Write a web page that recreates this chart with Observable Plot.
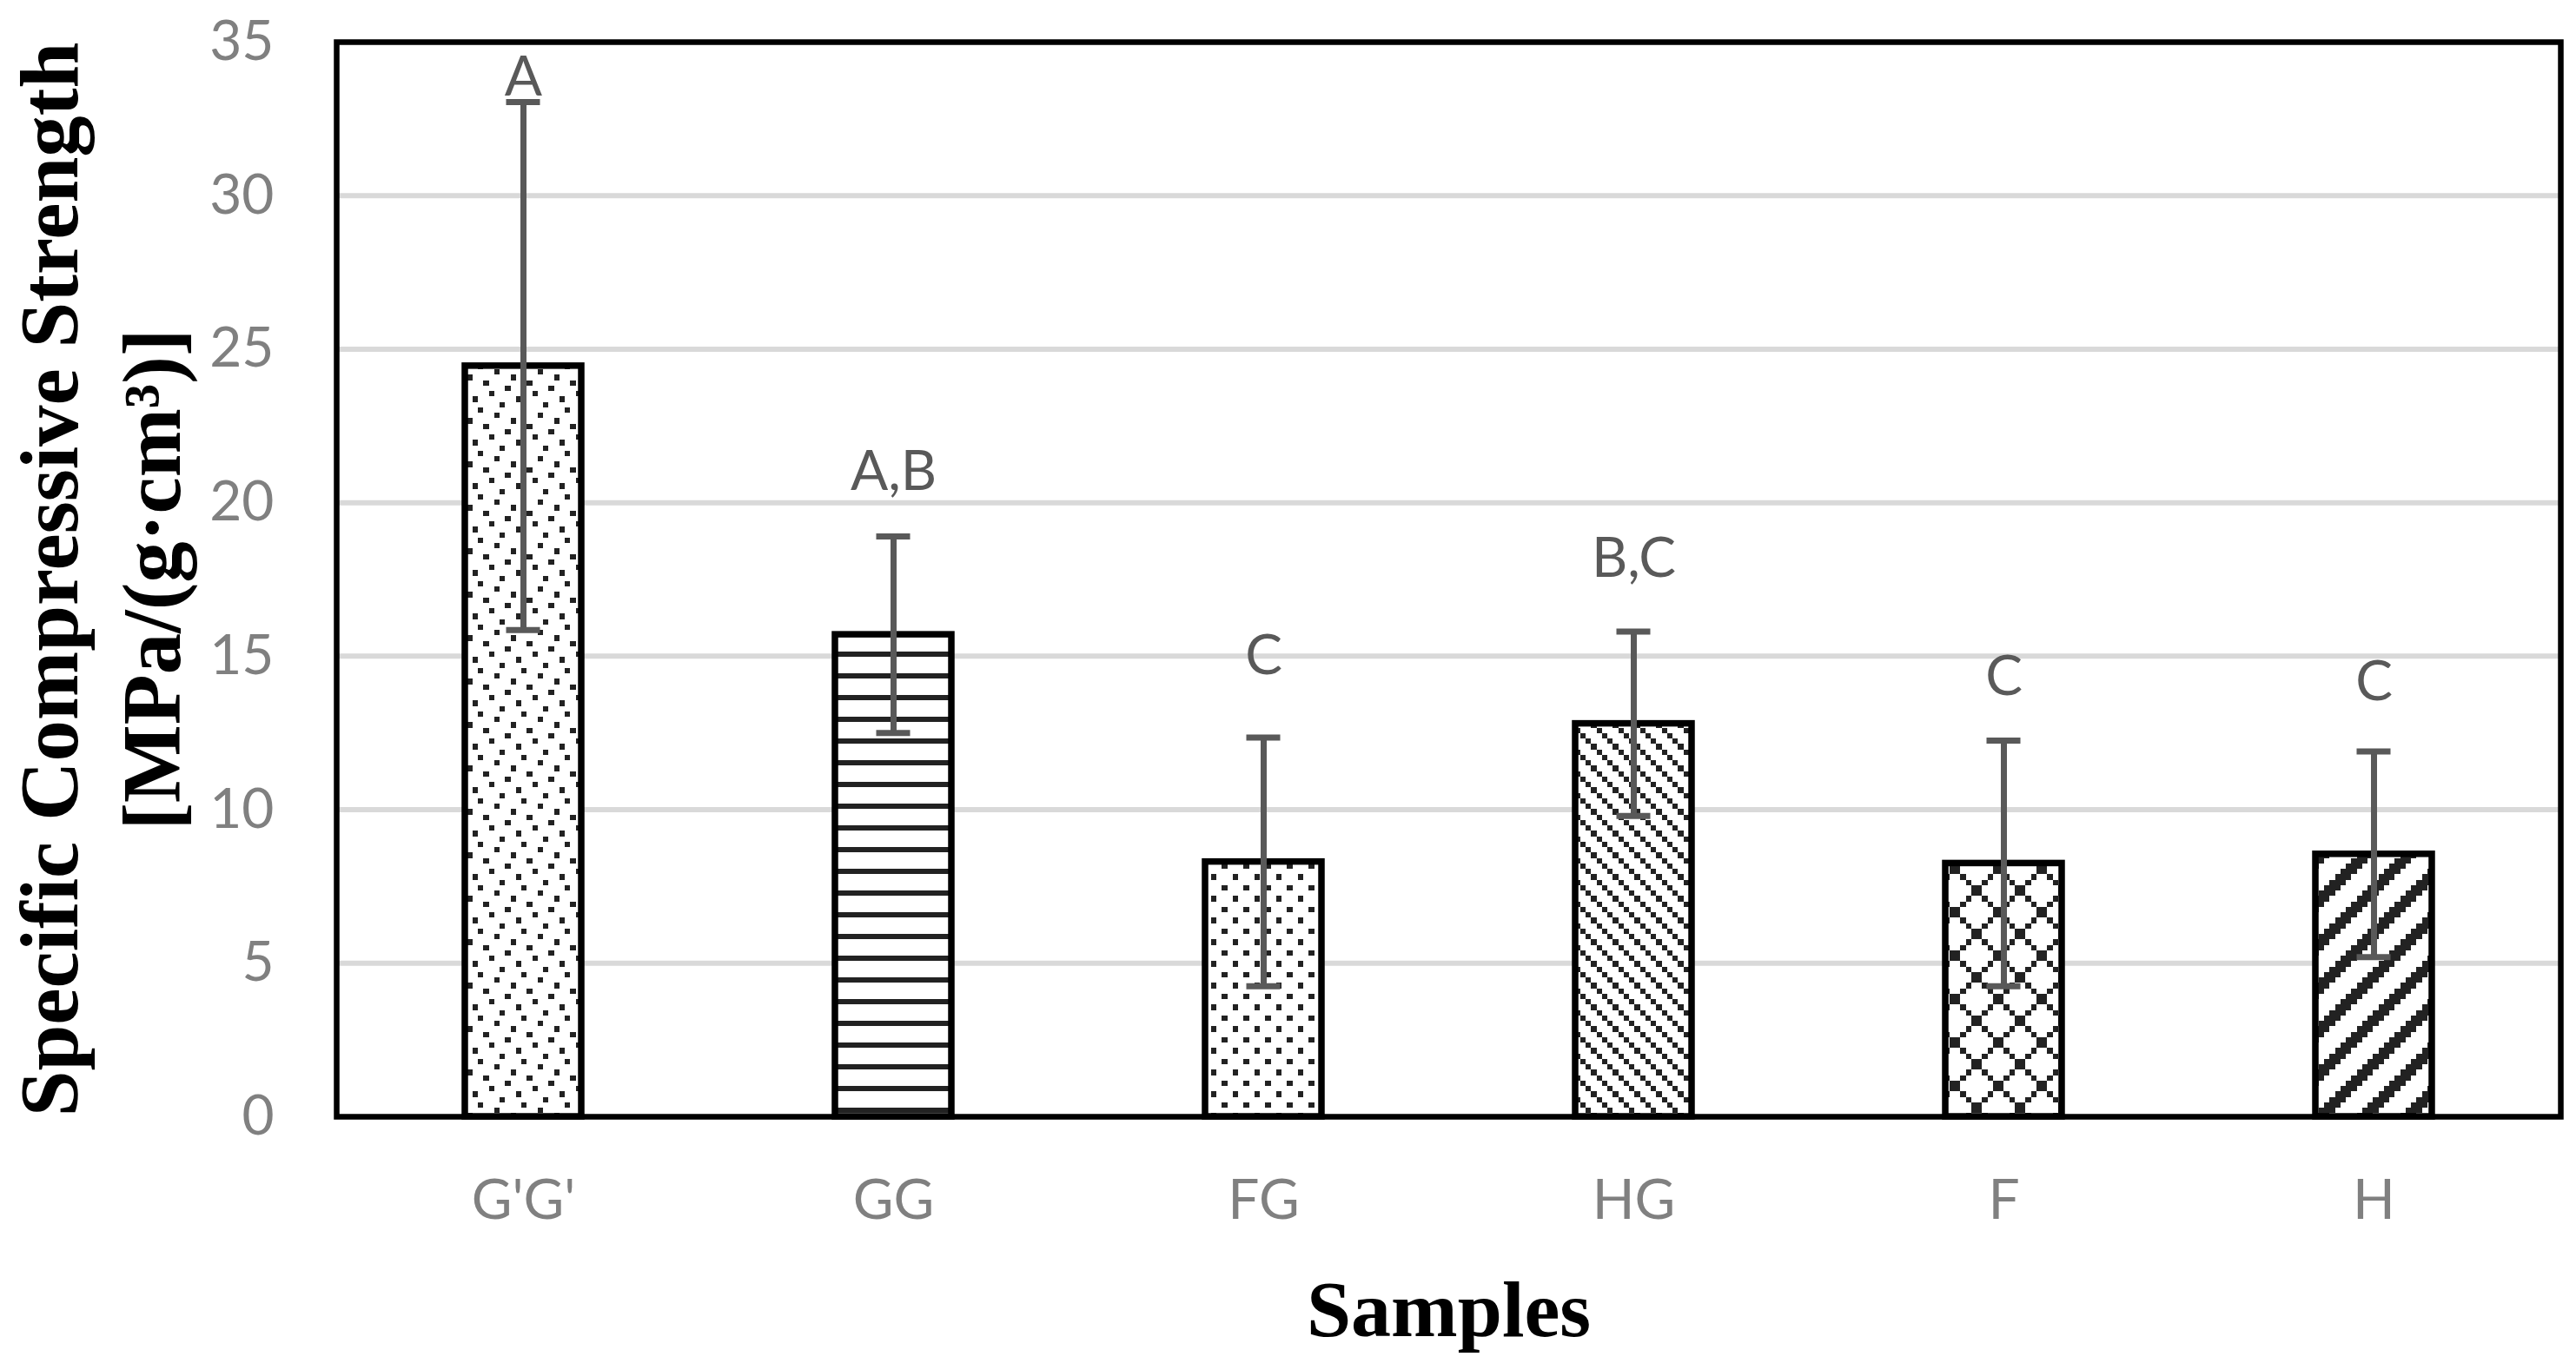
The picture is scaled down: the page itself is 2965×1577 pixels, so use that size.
<!DOCTYPE html>
<html>
<head>
<meta charset="utf-8">
<script src="https://cdn.jsdelivr.net/npm/d3@7"></script>
<script src="https://cdn.jsdelivr.net/npm/@observablehq/plot@0.6"></script>
<style>
  html, body { margin: 0; padding: 0; background: #ffffff; }
  #chart svg { display: block; }
</style>
</head>
<body>
<div id="chart"></div>
<script>
// ---- data ----
const samples = ["G'G'", "GG", "FG", "HG", "F", "H"];
const means   = [24.45, 15.7, 8.3, 12.8, 8.25, 8.55];
const sds     = [8.6, 3.2, 4.05, 3.0, 4.0, 3.35];
const letters = ["A", "A,B", "C", "B,C", "C", "C"];
const letterY = [33.85, 21.0, 15.0, 18.17, 14.32, 14.15];
const yTicks  = [0, 5, 10, 15, 20, 25, 30, 35];
const patternNames = ["dots-dense", "hlines", "dots-sparse", "diag-down", "diamond", "wide-up"];
const yTitle = "Specific Compressive Strength\n[MPa/(g·cm³)]";
const xTitle = "Samples";

const rows = samples.map((s, i) => ({
  sample: s,
  mean: means[i],
  lo: means[i] - sds[i],
  hi: means[i] + sds[i],
  letter: letters[i],
  ly: letterY[i],
  pat: `url(#pat-${patternNames[i]})`
}));

const errColor = "#595959";
const tickColor = "#808080";

const chart = Plot.plot({
  width: 2965,
  height: 1577,
  marginLeft: 387,
  marginRight: 18,
  marginTop: 48,
  marginBottom: 292,
  style: {fontFamily: "Lato", background: "#ffffff", overflow: "visible"},
  x: {domain: samples, paddingInner: 0.686, paddingOuter: 0.343, label: null},
  y: {domain: [0, 35], ticks: yTicks, label: null},
  color: {type: "identity"},
  marks: [
    Plot.ruleY(yTicks.filter(t => t > 0 && t < 35), {stroke: "#d9d9d9", strokeWidth: 6}),
    Plot.barY(rows, {x: "sample", y: "mean", fill: "pat", stroke: "#000000", strokeWidth: 7.5}),
    Plot.frame({stroke: "#000000", strokeWidth: 6.5}),
    Plot.ruleX(rows, {x: "sample", y1: "lo", y2: "hi", stroke: errColor, strokeWidth: 7}),
    Plot.tickY(rows, {x: "sample", y: "lo", stroke: errColor, strokeWidth: 7, insetLeft: 47.5, insetRight: 47.5}),
    Plot.tickY(rows, {x: "sample", y: "hi", stroke: errColor, strokeWidth: 7, insetLeft: 47.5, insetRight: 47.5}),
    Plot.text(rows, {x: "sample", y: "ly", text: "letter", fill: errColor, fontSize: 64, fontFamily: "Lato", lineAnchor: "middle"}),
    Plot.axisY({ticks: yTicks, tickSize: 0, tickPadding: 72, fontSize: 64, fill: tickColor, label: null, fontFamily: "Lato"}),
    Plot.axisX({tickSize: 0, tickPadding: 72, fontSize: 64, fill: tickColor, label: null, fontFamily: "Lato"}),
    Plot.text([yTitle], {
      frameAnchor: "left", dx: -277, rotate: -90,
      textAnchor: "middle", lineAnchor: "middle", lineHeight: 1.24,
      fontSize: 95, fontWeight: "bold", fontFamily: "Liberation Serif", fill: "#000000"
    }),
    Plot.text([xTitle], {
      frameAnchor: "bottom", dy: 252, lineAnchor: "bottom",
      fontSize: 92, fontWeight: "bold", fontFamily: "Liberation Serif", fill: "#000000"
    })
  ]
});

// ---- hatch pattern definitions (8x8 style bitmaps) ----
const u = 6.25;
const ink = "#222222";
const patternDefs = {
  "dots-dense": {n: 8, px: [2, 7, 4, 0, 3, 6, 1, 5].map((c, r) => [c, r])},
  "hlines": {n: 4, px: [0, 1, 2, 3].map(c => [c, 0])},
  "dots-sparse": {n: 4, px: [[3, 1], [1, 3]]},
  "diag-down": {n: 4, px: [0, 1, 2, 3].map(i => [i, i])},
  "diamond": {n: 8, px: d3.range(8).flatMap(i => [[i, i], [7 - i, i]])},
  "wide-up": {n: 8, px: d3.range(8).flatMap(r => [0, 1, 2].map(k => [((7 - r + k) % 8 + 8) % 8, r]))}
};
const svg = d3.select(chart);
const defs = svg.insert("defs", ":first-child");
for (const [name, def] of Object.entries(patternDefs)) {
  const p = defs.append("pattern")
    .attr("id", `pat-${name}`)
    .attr("patternUnits", "userSpaceOnUse")
    .attr("width", def.n * u)
    .attr("height", def.n * u);
  p.append("rect").attr("width", def.n * u).attr("height", def.n * u).attr("fill", "#ffffff");
  for (const [c, r] of def.px) {
    p.append("rect")
      .attr("x", c * u).attr("y", r * u)
      .attr("width", u).attr("height", u)
      .attr("fill", ink)
      .attr("shape-rendering", "crispEdges");
  }
}

document.getElementById("chart").appendChild(chart);
</script>
</body>
</html>
